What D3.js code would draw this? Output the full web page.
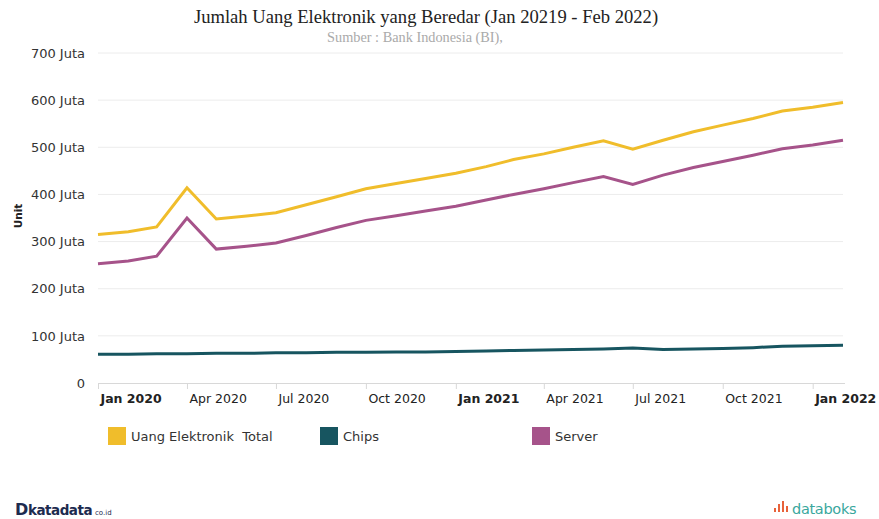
<!DOCTYPE html>
<html>
<head>
<meta charset="utf-8">
<script src="https://cdn.jsdelivr.net/npm/d3@7"></script>
<style>
  body { margin: 0; background: #fff; }
  text { font-family: "DejaVu Sans", Verdana, sans-serif; }
</style>
</head>
<body>
<div id="chart"></div>
<script>
var svgWidth = 879;
var svgHeight = 519;

var margin = { top: 53, right: 36, bottom: 136, left: 98 };

var width = svgWidth - margin.left - margin.right;
var height = svgHeight - margin.top - margin.bottom;

// data, Jan 2020 - Feb 2022
var months = ["2020-01","2020-02","2020-03","2020-04","2020-05","2020-06","2020-07","2020-08","2020-09","2020-10","2020-11","2020-12",
  "2021-01","2021-02","2021-03","2021-04","2021-05","2021-06","2021-07","2021-08","2021-09","2021-10","2021-11","2021-12",
  "2022-01","2022-02"];
var totalValues = [315,321,331,414,348,354,361,378,395,412,423,434,445,459,474,486,500,514,496,515,533,547,561,577,585,595];
var chipsValues = [61,61,62,62,63,63,64,64,65,65,66,66,67,68,69,70,71,72,74,71,72,73,75,78,79,80];
var serverValues = [253,259,269,350,284,290,297,313,330,345,355,365,375,388,400,412,425,438,421,441,457,470,483,497,505,515];

var seriesNames = ["Uang Elektronik  Total", "Chips", "Server"];
var seriesColors = ["#F0BD2B", "#175560", "#A6538A"];
var yTicks = [0,100,200,300,400,500,600,700];
var xTicks = ["2020-01","2020-04","2020-07","2020-10","2021-01","2021-04","2021-07","2021-10","2022-01"];

var parseMonth = d3.timeParse("%Y-%m");
var dates = months.map(parseMonth);

var series = [totalValues, chipsValues, serverValues].map(function(vals, i) {
  return { name: seriesNames[i], color: seriesColors[i],
    values: vals.map(function(v, j) { return { date: dates[j], value: v }; }) };
});

var svg = d3.select("#chart").append("svg")
  .attr("width", svgWidth)
  .attr("height", svgHeight);

// titles
svg.append("text")
  .attr("x", 426).attr("y", 23)
  .attr("text-anchor", "middle")
  .style("font-family", "'Liberation Serif', 'Times New Roman', serif")
  .style("font-size", "18.6px")
  .attr("fill", "#222")
  .text("Jumlah Uang Elektronik yang Beredar (Jan 20219 - Feb 2022)");

svg.append("text")
  .attr("x", 415).attr("y", 42)
  .attr("text-anchor", "middle")
  .style("font-family", "'Liberation Serif', 'Times New Roman', serif")
  .style("font-size", "14.3px")
  .attr("fill", "#aaa")
  .text("Sumber : Bank Indonesia (BI),");

var chartGroup = svg.append("g")
  .attr("transform", `translate(${margin.left}, ${margin.top})`);

var xScale = d3.scaleTime()
  .domain([dates[0], dates[dates.length - 1]])
  .range([0, width]);

var yScale = d3.scaleLinear()
  .domain([0, 700])
  .range([height, 0]);

// grid lines
chartGroup.append("g")
  .selectAll("line")
  .data(yTicks.filter(d => d > 0))
  .enter()
  .append("line")
  .attr("x1", 0).attr("x2", width)
  .attr("y1", d => yScale(d)).attr("y2", d => yScale(d))
  .attr("stroke", "#ececec")
  .attr("stroke-width", 1);

// y axis labels
var leftAxis = d3.axisLeft(yScale)
  .tickValues(yTicks)
  .tickSize(0)
  .tickPadding(13)
  .tickFormat(d => d === 0 ? "0" : d + " Juta");

var yAxis = chartGroup.append("g").call(leftAxis);
yAxis.select(".domain").remove();
yAxis.selectAll("text")
  .style("font-size", "13px")
  .attr("fill", "#333");

// x axis
var bottomAxis = d3.axisBottom(xScale)
  .tickValues(xTicks.map(parseMonth))
  .tickSize(6)
  .tickFormat(d3.timeFormat("%b %Y"));

var xAxis = chartGroup.append("g")
  .attr("transform", `translate(0, ${height})`)
  .call(bottomAxis);

xAxis.select(".domain")
  .attr("stroke", "#d8d8d8")
  .attr("d", `M0.5,6V0.5H${width + 2}`);
xAxis.selectAll(".tick line").attr("stroke", "#d8d8d8");
xAxis.selectAll("text")
  .attr("text-anchor", "start")
  .attr("x", 2)
  .attr("y", 6)
  .attr("dy", "1.15em")
  .style("font-size", "12.5px")
  .attr("fill", "#222")
  .style("font-weight", d => d.getMonth() === 0 ? "bold" : "normal");

// y title
chartGroup.append("text")
  .attr("transform", `translate(${-margin.left + 22}, ${height / 2 - 2}) rotate(-90)`)
  .attr("text-anchor", "middle")
  .style("font-size", "10.5px")
  .style("font-weight", "bold")
  .attr("fill", "#222")
  .text("Unit");

// lines
var line = d3.line()
  .x(d => xScale(d.date))
  .y(d => yScale(d.value));

chartGroup.selectAll(".series")
  .data(series)
  .enter()
  .append("path")
  .attr("class", "series")
  .attr("d", d => line(d.values))
  .attr("fill", "none")
  .attr("stroke", d => d.color)
  .attr("stroke-width", 3)
  .attr("stroke-linejoin", "miter");

// legend
var legend = svg.append("g")
  .attr("transform", "translate(108, 427)");

var legendItems = legend.selectAll("g")
  .data(series)
  .enter()
  .append("g")
  .attr("transform", (d, i) => `translate(${i * 212}, 0)`);

legendItems.append("rect")
  .attr("width", 18).attr("height", 18)
  .attr("fill", d => d.color);

legendItems.append("text")
  .attr("x", 23).attr("y", 14)
  .style("font-size", "13px")
  .style("white-space", "pre")
  .attr("xml:space", "preserve")
  .attr("fill", "#333")
  .text(d => d.name);

// footer logos
var kata = svg.append("g").attr("transform", "translate(15, 515)");
kata.append("text")
  .attr("x", 0).attr("y", 0)
  .style("font-size", "16px")
  .style("font-weight", "bold")
  .attr("fill", "#1d2b4f")
  .text("D");
kata.append("text")
  .attr("x", 13).attr("y", 0)
  .style("font-size", "13.5px")
  .style("font-weight", "bold")
  .style("letter-spacing", "-0.5px")
  .attr("fill", "#1d2b4f")
  .text("katadata");
kata.append("text")
  .attr("x", 80).attr("y", 0)
  .style("font-size", "7px")
  .attr("fill", "#1d2b4f")
  .text("co.id");

var boks = svg.append("g").attr("transform", "translate(774, 514)");
[[0, 6, 4], [4, 10, 8], [8, 13, 11], [12, 8, 6]].forEach(function(b) {
  boks.append("rect")
    .attr("x", b[0]).attr("y", -b[1])
    .attr("width", 2).attr("height", b[2])
    .attr("fill", "#e8623a");
});
boks.append("text")
  .attr("x", 18).attr("y", 0)
  .style("font-size", "14.5px")
  .style("letter-spacing", "-0.3px")
  .attr("fill", "#3aa79d")
  .text("databoks");
</script>
</body>
</html>
